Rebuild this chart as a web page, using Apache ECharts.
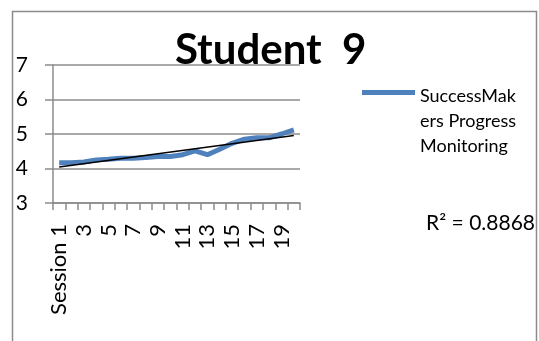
<!DOCTYPE html>
<html>
<head>
<meta charset="utf-8">
<script src="https://cdn.jsdelivr.net/npm/echarts@6/dist/echarts.min.js"></script>
<style>
html, body { margin: 0; padding: 0; background: #fff; }
#chart { width: 539px; height: 341px; }
</style>
</head>
<body>
<div id="chart"></div>
<script>
// sessions on the x axis
var sessions = ['Session 1', '2', '3', '4', '5', '6', '7', '8', '9', '10',
  '11', '12', '13', '14', '15', '16', '17', '18', '19', '20']
// SuccessMaker progress monitoring scores
var scores = [4.17, 4.17, 4.19, 4.25, 4.27, 4.30, 4.30, 4.32, 4.35, 4.35,
  4.40, 4.51, 4.40, 4.56, 4.73, 4.85, 4.89, 4.89, 5.00, 5.12]
var seriesName = 'SuccessMakers Progress Monitoring'
var rSquaredText = 'R² = 0.8868'

// linear trend line (least squares on the scores)
function linearFit (ys) {
  var n = ys.length
  var sx = 0, sy = 0, sxy = 0, sxx = 0
  for (var i = 0; i < n; i++) {
    var x = i + 1
    sx += x; sy += ys[i]; sxy += x * ys[i]; sxx += x * x
  }
  var slope = (n * sxy - sx * sy) / (n * sxx - sx * sx)
  var icpt = (sy - slope * sx) / n
  return { slope: slope, icpt: icpt }
}
var fit = linearFit(scores)
var trendStart = fit.icpt + fit.slope * 1
var trendEnd = fit.icpt + fit.slope * scores.length

var font = 'Lato'
var grey = '#8c8c8c'

var myChart = echarts.init(document.getElementById('chart'))
myChart.setOption({
  animation: false,
  textStyle: { fontFamily: font },
  title: {
    text: 'Student  9',
    left: 170,
    top: 24,
    textStyle: { fontFamily: font, fontSize: 42, fontWeight: 'bold', color: '#000' }
  },
  legend: {
    left: 357,
    top: 79,
    itemWidth: 53,
    itemHeight: 75,
    itemGap: 0,
    // bar at the top of the box so it lines up with the first text line
    icon: 'path://M0,0L0.01,0L0.01,0.01Z M0,6H53V11H0Z M0,75L0.01,75L0.01,74.99Z',
    data: [seriesName],
    formatter: function () {
      return 'SuccessMak\ners Progress\nMonitoring'
    },
    textStyle: { fontFamily: font, fontSize: 18, color: '#000', lineHeight: 25 }
  },
  grid: { left: 53, right: 239, top: 65, bottom: 138 },
  xAxis: {
    type: 'category',
    data: sessions,
    boundaryGap: true,
    axisLine: { lineStyle: { color: grey, width: 1.5 } },
    axisTick: { show: true, length: 7, interval: 0, lineStyle: { color: grey, width: 1.5 } },
    axisLabel: { interval: 1, rotate: 90, margin: 21, fontSize: 22, color: '#000', fontFamily: font }
  },
  yAxis: {
    type: 'value',
    min: 3,
    max: 7,
    interval: 1,
    axisLine: { show: true, lineStyle: { color: grey, width: 1.5 } },
    axisTick: { show: true, length: 8, lineStyle: { color: grey, width: 1.5 } },
    axisLabel: { fontSize: 21, color: '#000', margin: 25, fontFamily: font },
    splitLine: { lineStyle: { color: grey, width: 1.5 } }
  },
  series: [{
    name: seriesName,
    type: 'line',
    data: scores,
    symbol: 'none',
    lineStyle: { color: '#4f81bd', width: 5 },
    itemStyle: { color: '#4f81bd' },
    markLine: {
      silent: true,
      symbol: 'none',
      label: { show: false },
      lineStyle: { color: '#000', width: 1.5, type: 'solid' },
      data: [[
        { coord: [0, trendStart] },
        { coord: [scores.length - 1, trendEnd] }
      ]]
    }
  }],
  graphic: [
    {
      type: 'rect',
      shape: { x: 12.5, y: 11.5, width: 524, height: 400 },
      style: { fill: 'none', stroke: grey, lineWidth: 1.5 }
    },
    {
      type: 'text',
      right: 4,
      top: 213,
      style: { text: rSquaredText, fontFamily: font, fontSize: 21, fill: '#000' }
    }
  ]
})
</script>
</body>
</html>
